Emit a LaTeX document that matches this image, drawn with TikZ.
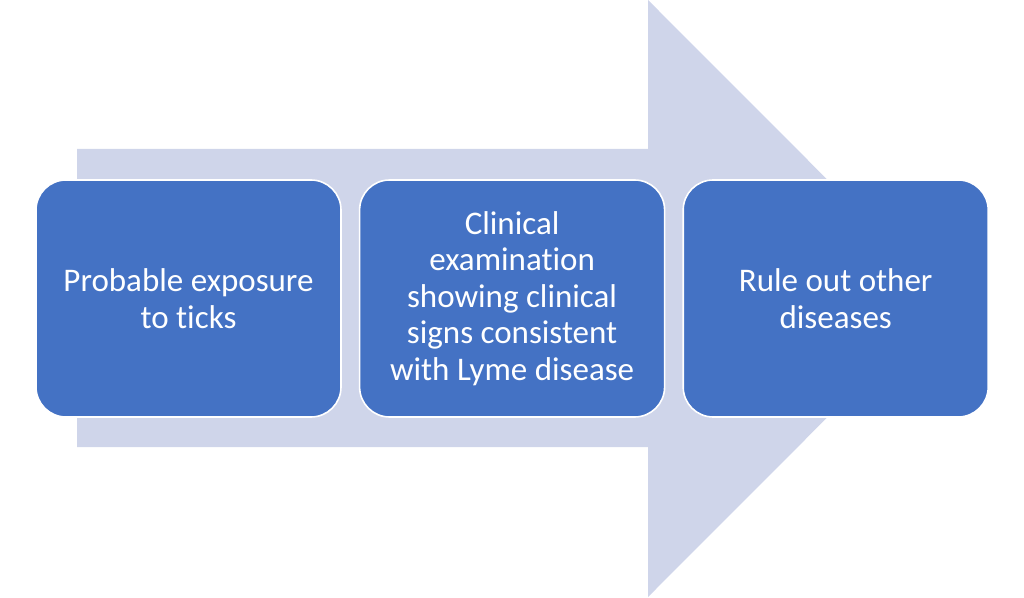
\documentclass[tikz,border=0pt]{standalone}
\usepackage{fontspec}
\setmainfont[Ligatures=NoCommon]{Carlito}
\usetikzlibrary{positioning}
\definecolor{shaft}{RGB}{207,213,234}
\definecolor{stage}{RGB}{68,114,196}

\begin{document}
\begin{tikzpicture}[x=1pt, y=1pt,
  stagebox/.style={draw=white, line width=1.6pt, fill=stage, rounded corners=30pt, minimum width=305pt, minimum height=237pt, align=center, text=white, inner sep=4pt, font=\fontsize{33}{36.5}\selectfont},
]
  \useasboundingbox (0,0) rectangle (1024,597);
  % big background arrow
  \fill[shaft] (77,150) -- (648,150) -- (648,0) -- (946,298.5) -- (648,597) -- (648,448) -- (77,448) -- cycle;
  \node[stagebox] (exposure) at (188.5,298.5) {Probable exposure\\ to ticks};
  \node[stagebox, right=17pt of exposure] (exam) {Clinical\\ examination\\ showing clinical\\ signs consistent\\ with Lyme disease};
  \node[stagebox, right=17pt of exam] (ruleout) {Rule out other\\ diseases};
\end{tikzpicture}
\end{document}
